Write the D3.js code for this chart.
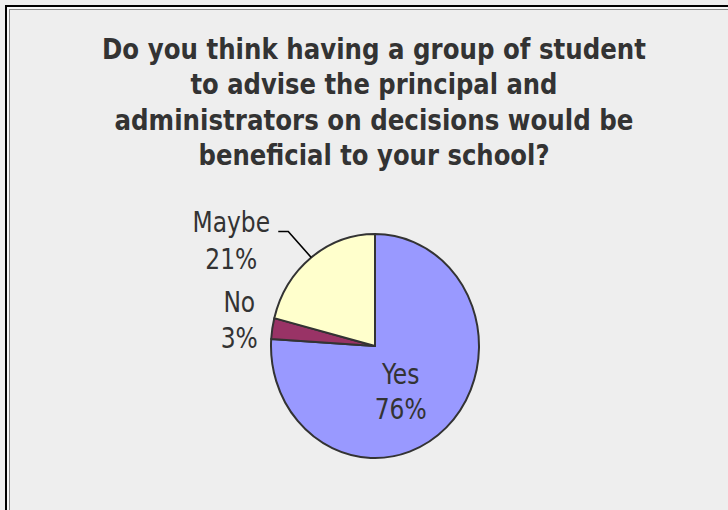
<!DOCTYPE html>
<html>
<head>
<meta charset="utf-8">
<script src="https://cdn.jsdelivr.net/npm/d3@7/dist/d3.min.js"></script>
<style>
  html, body { margin: 0; padding: 0; background: #eeeeee; }
  svg { display: block; }
</style>
</head>
<body>
<svg id="chart" width="728" height="510"></svg>
<script>
// Survey answers and their shares (percent)
const categories = ["Yes", "No", "Maybe"];
const percents = [76, 3, 21];
const sliceColors = ["#9999FF", "#993366", "#FFFFCC"];
const titleLines = [
  "Do you think having a group of student",
  "to advise the principal and",
  "administrators on decisions would be",
  "beneficial to your school?"
];

const W = 728, H = 510;
const svg = d3.select("#chart");

// panel background and double frame
svg.append("rect").attr("x", 0).attr("y", 0).attr("width", W).attr("height", H).attr("fill", "#eeeeee");
svg.append("rect").attr("x", 6).attr("y", 6).attr("width", W + 40).attr("height", H + 40)
  .attr("fill", "none").attr("stroke", "#000").attr("stroke-width", 2);
svg.append("rect").attr("x", 8).attr("y", 8).attr("width", W + 40).attr("height", H + 40)
  .attr("fill", "none").attr("stroke", "#ffffff").attr("stroke-width", 1);
svg.append("rect").attr("x", 9.5).attr("y", 9.5).attr("width", W + 40).attr("height", H + 40)
  .attr("fill", "none").attr("stroke", "#8a8a8a").attr("stroke-width", 1);

// text is drawn slightly tall (vertical stretch)
const vStretch = 1.1;

// title
const titleX = 374;
const titleBaselines = [59, 94, 130, 165];
const titleWidths = [544, 367, 519, 351];
const title = svg.append("g");
titleLines.forEach((line, i) => {
  title.append("text")
    .attr("transform", `translate(${titleX},${titleBaselines[i]}) scale(1,${vStretch})`)
    .attr("text-anchor", "middle")
    .attr("font-family", "'DejaVu Sans Condensed', 'DejaVu Sans', sans-serif")
    .attr("font-stretch", "condensed")
    .attr("font-weight", "bold")
    .attr("font-size", 26.5)
    .attr("fill", "#333333")
    .attr("textLength", titleWidths[i])
    .attr("lengthAdjust", "spacingAndGlyphs")
    .text(line);
});

// pie geometry
const cx = 375, cy = 346, rx = 104, ry = 112;
const pie = d3.pie().sort(null).value(d => d)(percents);
const arc = d3.arc().innerRadius(0).outerRadius(rx);

const pieG = svg.append("g").attr("transform", `translate(${cx},${cy}) scale(1,${ry / rx})`);
pieG.selectAll("path")
  .data(pie)
  .join("path")
  .attr("d", arc)
  .attr("fill", (d, i) => sliceColors[i])
  .attr("stroke", "#333333")
  .attr("stroke-width", 2)
  .attr("vector-effect", "non-scaling-stroke")
  .attr("stroke-linejoin", "round");

// point on the pie rim at the middle of a slice
function rimPoint(d) {
  const a = (d.startAngle + d.endAngle) / 2;
  return [cx + rx * Math.sin(a), cy - ry * Math.cos(a)];
}

function drawLabel(name, pct, x, y1, y2) {
  const fontSize = 26;
  [[name, y1], [pct + "%", y2]].forEach(([t, y]) => {
    svg.append("text")
      .attr("transform", `translate(${x},${y}) scale(1,1.08)`)
      .attr("text-anchor", "middle")
      .attr("font-family", "'DejaVu Sans Condensed', 'DejaVu Sans', sans-serif")
      .attr("font-stretch", "condensed")
      .attr("font-size", fontSize)
      .attr("fill", "#333333")
      .text(t);
  });
}

pie.forEach((d, i) => {
  const name = categories[i], pct = percents[i];
  const [ex, ey] = rimPoint(d);
  if (name === "Maybe") {
    // leader: from rim up-left to an elbow, then a short horizontal tick
    const bx = ex - 23, by = ey - 26;
    svg.append("path")
      .attr("d", d3.line()([[ex, ey], [bx, by], [bx - 10, by]]))
      .attr("fill", "none").attr("stroke", "#000").attr("stroke-width", 1.6);
    drawLabel(name, pct, bx - 57, by, by + 37);
  } else if (name === "No") {
    drawLabel(name, pct, ex - 33, ey - 16, ey + 19.5);
  } else {
    // inside label for the large slice
    const lx = cx + (ex - cx) * 0.36, ly = cy + (ey - cy) * 0.46;
    drawLabel(name, pct, lx, ly, ly + 35);
  }
});
</script>
</body>
</html>
